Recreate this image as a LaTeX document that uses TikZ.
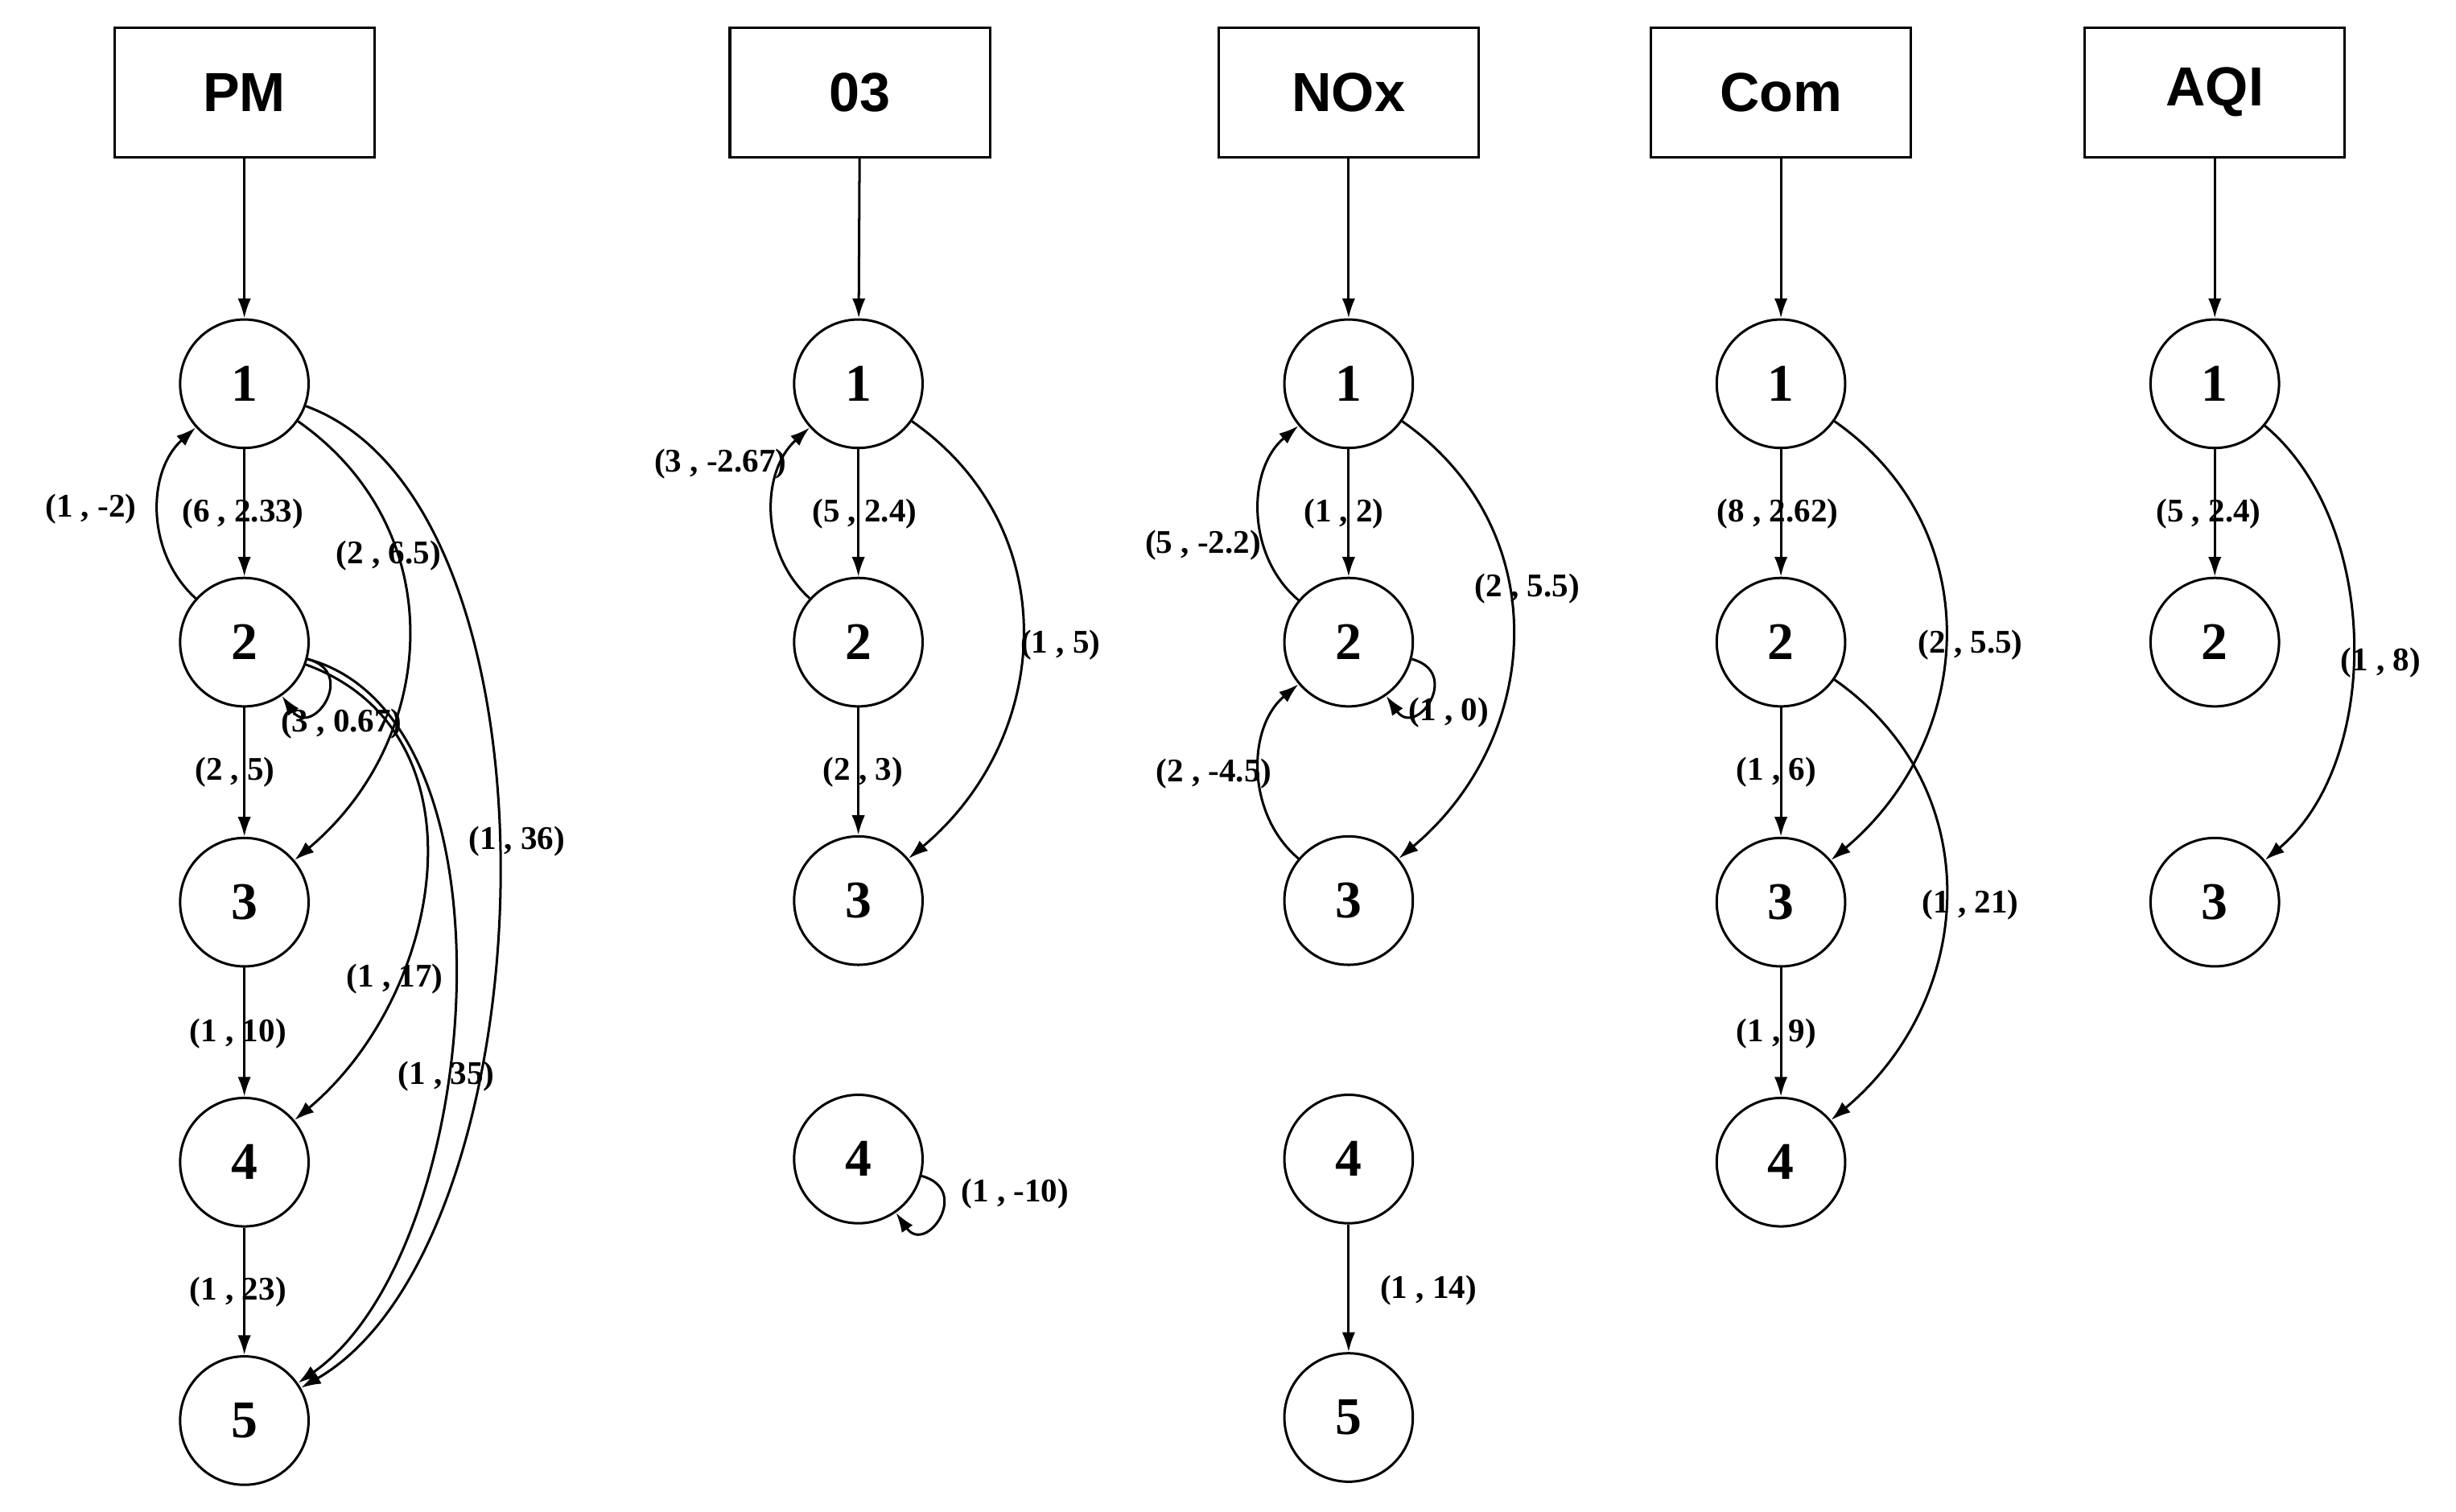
\documentclass[tikz,border=0pt]{standalone}
\usepackage{fontspec}
\setmainfont{Liberation Serif}
\newfontfamily\boxfont{Liberation Sans}
\usetikzlibrary{arrows.meta}
\begin{document}
\begin{tikzpicture}[x=0.025cm,y=-0.025cm,
  st/.style={circle,draw,line width=1.1pt,minimum size=2.05cm,inner sep=0pt,font=\fontsize{24}{24}\selectfont\bfseries},
  bx/.style={rectangle,draw,line width=1.1pt,minimum width=4.15cm,minimum height=2.075cm,font=\fontsize{25}{25}\selectfont\boxfont\bfseries},
  e/.style={-{Latex[length=9pt,width=6pt]},line width=1.1pt},
  lb/.style={font=\fontsize{15}{15}\selectfont\bfseries,inner sep=0pt}]
\useasboundingbox (0,0) rectangle (1568,965);
% PM
\node[bx] (bpm) at (156,59) {PM};
\foreach \i/\y in {1/245,2/410,3/576,4/742,5/907} \node[st] (p\i) at (156,\y) {\i};
\draw[e] (bpm) -- (p1);
\draw[e] (p1) -- (p2); \draw[e] (p2) -- (p3); \draw[e] (p3) -- (p4); \draw[e] (p4) -- (p5);
\draw[e] (p2) to[bend left=48] (p1);
\draw[e] (p1) to[out=-35,in=40,looseness=1.1] (p3);
\draw[e] (p1) to[out=-20,in=30,looseness=0.75] (p5);
\draw[e] (p2) to[out=-20,in=40,looseness=1.1] (p4);
\draw[e] (p2) to[out=-15,in=35,looseness=0.8] (p5);
\draw[e] (p2) to[out=-15,in=-55,looseness=3] (p2);
\node[lb] at (58,325) {(1 , -2)};
\node[lb] at (155,328) {(6 , 2.33)};
\node[lb] at (248,355) {(2 , 6.5)};
\node[lb] at (218,462) {(3 , 0.67)};
\node[lb] at (150,493) {(2 , 5)};
\node[lb] at (330,537) {(1 , 36)};
\node[lb] at (252,625) {(1 , 17)};
\node[lb] at (152,660) {(1 , 10)};
\node[lb] at (285,687) {(1 , 35)};
\node[lb] at (152,825) {(1 , 23)};
% O3
\node[bx] (bo3) at (549,59) {03};
\foreach \i/\y in {1/245,2/410,3/575,4/740} \node[st] (o\i) at (548,\y) {\i};
\draw[e] (bo3) -- (o1);
\draw[e] (o1) -- (o2); \draw[e] (o2) -- (o3);
\draw[e] (o2) to[bend left=48] (o1);
\draw[e] (o1) to[out=-35,in=40,looseness=1.1] (o3);
\draw[e] (o4) to[out=-15,in=-55,looseness=3] (o4);
\node[lb] at (460,296) {(3 , -2.67)};
\node[lb] at (552,328) {(5 , 2.4)};
\node[lb] at (677,412) {(1 , 5)};
\node[lb] at (551,493) {(2 , 3)};
\node[lb] at (648,762) {(1 , -10)};
% NOx
\node[bx] (bnx) at (861,59) {NOx};
\foreach \i/\y in {1/245,2/410,3/575,4/740,5/905} \node[st] (n\i) at (861,\y) {\i};
\draw[e] (bnx) -- (n1);
\draw[e] (n1) -- (n2); \draw[e] (n4) -- (n5);
\draw[e] (n2) to[bend left=50] (n1);
\draw[e] (n3) to[bend left=50] (n2);
\draw[e] (n1) to[out=-35,in=40,looseness=1.1] (n3);
\draw[e] (n2) to[out=-15,in=-55,looseness=3] (n2);
\node[lb] at (768,348) {(5 , -2.2)};
\node[lb] at (858,328) {(1 , 2)};
\node[lb] at (975,376) {(2 , 5.5)};
\node[lb] at (925,455) {(1 , 0)};
\node[lb] at (775,494) {(2 , -4.5)};
\node[lb] at (912,824) {(1 , 14)};
% Com
\node[bx] (bcm) at (1137,59) {Com};
\foreach \i/\y in {1/245,2/410,3/576,4/742} \node[st] (c\i) at (1137,\y) {\i};
\draw[e] (bcm) -- (c1);
\draw[e] (c1) -- (c2); \draw[e] (c2) -- (c3); \draw[e] (c3) -- (c4);
\draw[e] (c1) to[out=-35,in=40,looseness=1.1] (c3);
\draw[e] (c2) to[out=-35,in=40,looseness=1.1] (c4);
\node[lb] at (1135,328) {(8 , 2.62)};
\node[lb] at (1258,412) {(2 , 5.5)};
\node[lb] at (1134,493) {(1 , 6)};
\node[lb] at (1258,578) {(1 , 21)};
\node[lb] at (1134,660) {(1 , 9)};
% AQI
\node[bx] (baq) at (1414,59) {AQI};
\foreach \i/\y in {1/245,2/410,3/576} \node[st] (a\i) at (1414,\y) {\i};
\draw[e] (baq) -- (a1);
\draw[e] (a1) -- (a2);
\draw[e] (a1) to[out=-40,in=40,looseness=0.9] (a3);
\node[lb] at (1410,328) {(5 , 2.4)};
\node[lb] at (1520,423) {(1 , 8)};
\end{tikzpicture}
\end{document}
